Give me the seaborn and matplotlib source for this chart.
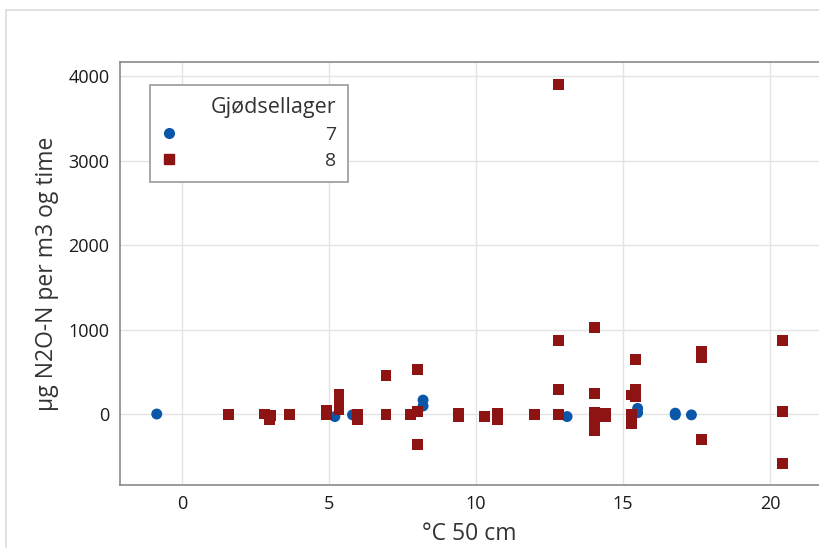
import matplotlib
matplotlib.use("Agg")
import matplotlib.pyplot as plt
import seaborn as sns
import pandas as pd
from matplotlib.lines import Line2D
from matplotlib.patches import Rectangle

# Data
temp7 = [-0.86, 5.2, 5.8, 8.2, 8.2, 13.1, 15.5, 15.5, 16.78, 16.78, 17.33]
n2o7 = [0, -30, -10, 165, 95, -30, 67, 15, 10, -10, -10]

temp8 = [1.58, 2.8, 3.0, 2.97, 3.65, 4.91, 4.91, 5.34, 5.34, 5.34, 5.96, 5.96,
         6.94, 6.94, 7.76, 8.0, 8.0, 8.0, 9.42, 9.42, 10.28, 10.72, 10.72, 11.98,
         12.81, 12.81, 12.81, 12.81, 14.03, 14.03, 14.03, 14.03, 14.03, 14.03,
         14.2, 14.4, 14.4, 15.28, 15.28, 15.28, 15.28, 15.43, 15.43, 15.43,
         17.66, 17.66, 17.66, 20.42, 20.42, 20.42]
n2o8 = [-8, 0, -20, -70, -8, 40, -10, 230, 130, 50, 0, -60,
        460, -10, -8, 530, 30, -360, 10, -35, -30, 10, -70, -8,
        3900, 870, 290, -8, 1020, 245, 20, -20, -110, -200,
        -5, 10, -30, 225, -10, -90, -115, 650, 285, 205,
        740, 670, -300, 870, 25, -590]

groups = ["7", "8"]
xticks = [0, 5, 10, 15, 20]
yticks = [0, 1000, 2000, 3000, 4000]

df = pd.DataFrame({
    "temp": temp7 + temp8,
    "n2o": n2o7 + n2o8,
    "Gjødsellager": [groups[0]] * len(temp7) + [groups[1]] * len(temp8),
})

sns.set_style("white")
plt.rcParams["font.family"] = ["Open Sans", "DejaVu Sans"]

colors = {"7": "#0A56A8", "8": "#8E1414"}
markers = {"7": "o", "8": "s"}

fig = plt.figure(figsize=(8.19, 5.48), dpi=100)
W, H = 819, 548
# outer frame
fig.add_artist(Rectangle((6 / W, -0.1), 2.0, (1 - 10 / H) + 0.1, transform=fig.transFigure,
                         fill=False, edgecolor="#dcdcdc", linewidth=1.2))
ax = fig.add_axes([120 / W, (H - 485) / H, 699 / W, 423 / H])

sns.scatterplot(data=df, x="temp", y="n2o", hue="Gjødsellager", style="Gjødsellager",
                palette=colors, markers=markers, s=62, linewidth=0, ax=ax, legend=False,
                zorder=3)

ax.set_xlim(-2.11, 21.67)
ax.set_ylim(-840, 4166)
ax.set_xticks(xticks)
ax.set_yticks(yticks)
ax.grid(True, color="#e3e3e3", linewidth=1)
ax.set_axisbelow(True)
for side in ["left", "bottom", "top"]:
    ax.spines[side].set_color("#8a8a8a")
    ax.spines[side].set_linewidth(1.2)
ax.spines["right"].set_visible(False)
ax.tick_params(axis="both", which="major", length=4, width=1, color="#8a8a8a",
               labelsize=13, labelcolor="#1a1a1a", direction="out")
ax.set_xlabel("°C 50 cm", fontsize=16.5, color="#333333", labelpad=6)
ax.set_ylabel("µg N2O-N per m3 og time", fontsize=16.5, color="#333333", labelpad=7)

handles = [Line2D([], [], marker=markers[g], color=colors[g], linestyle="None",
                  markersize=7) for g in groups]
leg = ax.legend(handles, groups, title="Gjødsellager", loc="upper left",
                bbox_to_anchor=(150 / W, 1 - 85 / H), bbox_transform=fig.transFigure,
                frameon=True, fancybox=False, edgecolor="#9a9a9a", framealpha=1,
                fontsize=14, title_fontsize=15.5, handletextpad=7.6, handlelength=0.8,
                borderpad=0.6, labelspacing=0.42, alignment="right", borderaxespad=0)
leg.get_frame().set_linewidth(1.2)
for t in leg.get_texts():
    t.set_color("#333333")
leg.get_title().set_color("#333333")

fig.savefig("out.png", dpi=100)
